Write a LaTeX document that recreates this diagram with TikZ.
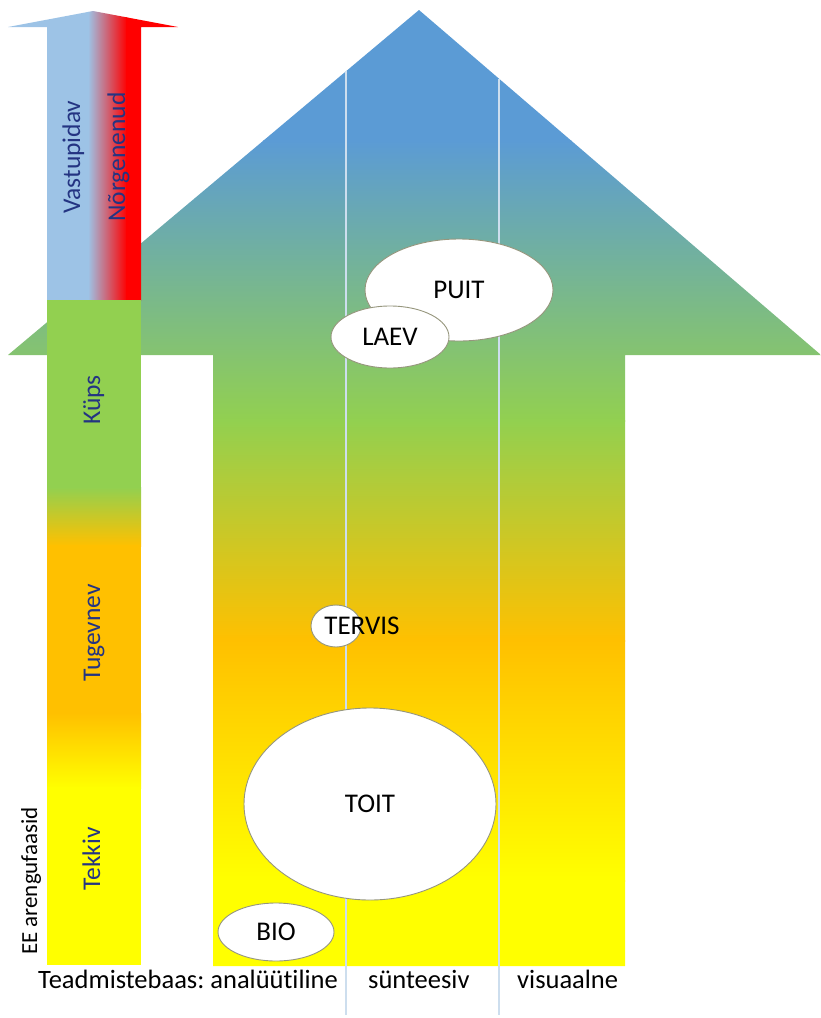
\documentclass[tikz,border=0pt]{standalone}
\usepackage{fontspec}
\setmainfont[Ligatures=NoCommon]{Carlito}
\usetikzlibrary{shapes.geometric}
\definecolor{skyblue}{RGB}{91,155,213}
\definecolor{leafgreen}{RGB}{146,208,80}
\definecolor{amber}{RGB}{255,192,0}
\definecolor{lemon}{RGB}{255,255,0}
\definecolor{paleblue}{RGB}{157,195,230}
\definecolor{signalred}{RGB}{255,0,0}
\definecolor{navytext}{RGB}{36,52,130}
\definecolor{divider}{RGB}{205,222,238}
\definecolor{rimgray}{RGB}{150,150,125}
\frenchspacing
\begin{document}
\begin{tikzpicture}[x=1pt,y=-1pt,
  bubble/.style={ellipse, draw=rimgray, line width=0.9pt, fill=white, inner sep=0pt,
    font=\fontsize{27}{32}\selectfont, text=black},
  bubbletext/.style={font=\fontsize{27}{32}\selectfont, text=black, inner sep=0pt},
  phase/.style={rotate=90, anchor=base, font=\fontsize{25.5}{30}\selectfont, text=navytext, inner sep=0pt},
  axislabel/.style={anchor=base west, font=\fontsize{26.5}{32}\selectfont, text=black, inner sep=0pt},
  divline/.style={draw=divider, line width=1.3pt}]
\useasboundingbox (0,0) rectangle (821,1018);

% large upward arrow with vertical colour gradient
\begin{scope}
  \clip (419,10) -- (821,355) -- (625,355) -- (625,966) -- (213,966) -- (213,355) -- (8,355) -- cycle;
  \fill[skyblue] (0,0) rectangle (821,141);
  \shade[top color=skyblue, bottom color=leafgreen] (0,140) rectangle (821,421);
  \shade[top color=leafgreen, bottom color=amber] (0,420) rectangle (821,641);
  \shade[top color=amber, bottom color=lemon] (0,640) rectangle (821,881);
  \fill[lemon] (0,880) rectangle (821,970);
\end{scope}

% column dividers
\coordinate (divA top) at (346,71.3);
\coordinate (divA bot) at (346,1015);
\coordinate (divB top) at (499,78.7);
\coordinate (divB bot) at (499,1015);
\draw[divline] (divA top) -- (divA bot);
\draw[divline] (divB top) -- (divB bot);

% small arrow on the left: blue to red across
\begin{scope}
  \clip (93,11) -- (178,27) -- (141,27) -- (141,301) -- (47,301) -- (47,27) -- (8,27) -- cycle;
  \fill[paleblue] (0,0) rectangle (89,310);
  \shade[left color=paleblue, right color=signalred] (88,0) rectangle (127,310);
  \fill[signalred] (126,0) rectangle (180,310);
\end{scope}

% phase bar
\fill[leafgreen] (47,300) rectangle (141,488);
\shade[top color=leafgreen, bottom color=amber] (47,487) rectangle (141,546);
\fill[amber] (47,545) rectangle (141,714);
\shade[top color=amber, bottom color=lemon] (47,713) rectangle (141,788);
\fill[lemon] (47,787) rectangle (141,965);

% phase labels
\node[phase] (vastupidav) at (80,157) {Vastupidav};
\node[phase] (norgenenud) at (125,157) {Nõrgenenud};
\node[phase] (kups) at (100,400) {Küps};
\node[phase] (tugevnev) at (100,633) {Tugevnev};
\node[phase] (tekkiv) at (100,859) {Tekkiv};
\node[phase, text=black, font=\fontsize{23}{28}\selectfont] (faasid) at (37,881) {EE arengufaasid};

% sectors
\node[bubble, minimum width=188pt, minimum height=102pt] (puit) at (459,290) {PUIT};
\node[bubble, minimum width=118pt, minimum height=62pt] (laev) at (390,337) {LAEV};
\node[bubble, minimum width=50pt, minimum height=42pt] (tervisring) at (336,626) {};
\node[bubbletext] (tervis) at (362,626) {TERVIS};
\node[bubble, minimum width=252pt, minimum height=192pt] (toit) at (370,804) {TOIT};
\node[bubble, minimum width=116pt, minimum height=58pt] (bio) at (276,932) {BIO};

% knowledge base axis
\node[axislabel] (analyytiline) at (38,988) {Teadmistebaas: analüütiline};
\node[axislabel] (synteesiv) at (368,988) {sünteesiv};
\node[axislabel] (visuaalne) at (517,988) {visuaalne};
\end{tikzpicture}
\end{document}
